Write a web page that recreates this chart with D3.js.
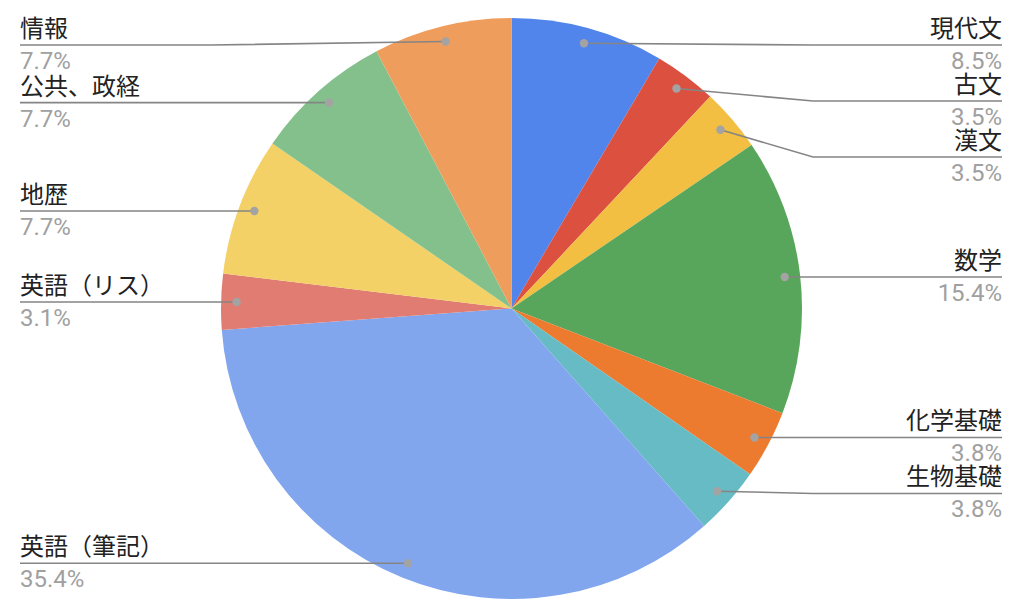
<!DOCTYPE html>
<html>
<head>
<meta charset="utf-8">
<script src="https://cdn.jsdelivr.net/npm/d3@7"></script>
<style>
  html, body { margin: 0; padding: 0; background: #fff; }
  svg { display: block; }
  text { font-family: Roboto, "Noto Sans CJK JP", sans-serif; }
</style>
</head>
<body>
<svg id="chart" width="1024" height="605"></svg>
<script>
const categories = ["現代文", "古文", "漢文", "数学", "化学基礎", "生物基礎", "英語（筆記）", "英語（リス）", "地歴", "公共、政経", "情報"];
const values = [8.5, 3.5, 3.5, 15.4, 3.8, 3.8, 35.4, 3.1, 7.7, 7.7, 7.7];
const colors = ["#5185ec", "#dc5040", "#f2bf43", "#58a65c", "#ec7a2f", "#67bbc4", "#81a6ee", "#e07c72", "#f3d166", "#83c08c", "#ef9d5c"];

const W = 1024, H = 605;
const cx = 511.5, cy = 308.5, R = 290.5;
const dotR = 275;
const svg = d3.select("#chart");
const g = svg.append("g").attr("transform", `translate(${cx},${cy})`);

const total = d3.sum(values);
const data = categories.map((c, i) => ({ name: c, value: values[i], color: colors[i] }));
const pie = d3.pie().value(d => d.value).sort(null);
const arcs = pie(data);
const arc = d3.arc().innerRadius(0).outerRadius(R);

g.selectAll("path.slice").data(arcs).enter().append("path")
  .attr("class", "slice")
  .attr("d", arc)
  .attr("fill", d => d.data.color);

// anchor points
const pts = arcs.map(a => {
  const m = (a.startAngle + a.endAngle) / 2;
  return {
    a, name: a.data.name, pct: (a.data.value / total * 100).toFixed(1) + "%",
    x: cx + dotR * Math.sin(m), y: cy - dotR * Math.cos(m),
    right: m < Math.PI
  };
});

// label placement avoiding overlap
const gap = 56, minY = 45;
["right", "left"].forEach(side => {
  const list = pts.filter(p => (side === "right") === p.right).sort((a, b) => a.y - b.y);
  let prev = -Infinity;
  list.forEach(p => {
    let y = Math.max(p.y, minY, prev + gap);
    p.ly = y;
    prev = y;
  });
});

const lineG = svg.append("g");
pts.forEach(p => {
  const endX = p.right ? 1002 : 20;
  const bendX = p.right ? 813 : 211;
  let path;
  if (Math.abs(p.ly - p.y) < 0.5) {
    path = `M${p.x},${p.y}L${endX},${p.ly}`;
  } else {
    path = `M${p.x},${p.y}L${bendX},${p.ly}L${endX},${p.ly}`;
  }
  lineG.append("path").attr("d", path).attr("fill", "none")
    .attr("stroke", "#858585").attr("stroke-width", 1.6);
  lineG.append("circle").attr("cx", p.x).attr("cy", p.y).attr("r", 4.2).attr("fill", "#a3a3a3");
  const anchor = p.right ? "end" : "start";
  lineG.append("text").attr("x", endX).attr("y", p.ly - 8)
    .attr("text-anchor", anchor).attr("font-size", 24).attr("fill", "#222")
    .text(p.name);
  lineG.append("text").attr("x", endX).attr("y", p.ly + 24)
    .attr("text-anchor", anchor).attr("font-size", 24).attr("fill", "#a0a0a0")
    .text(p.pct);
});
</script>
</body>
</html>
